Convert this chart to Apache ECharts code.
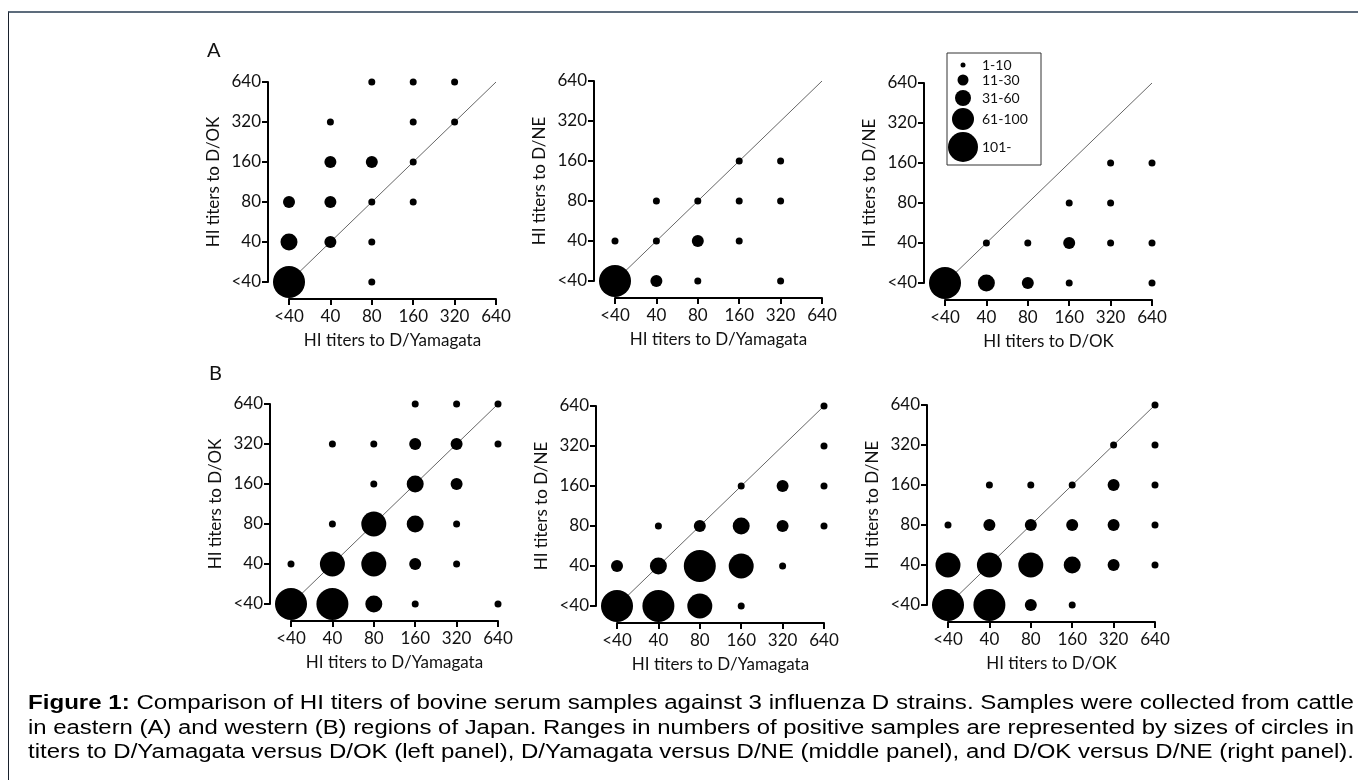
<!DOCTYPE html>
<html>
<head>
<meta charset="utf-8">
<script src="https://cdn.jsdelivr.net/npm/echarts@6/dist/echarts.min.js"></script>
<style>
body { margin: 0; background: #fff; overflow: hidden; }
#chart { position: absolute; left: 0; top: 0; width: 1358px; height: 780px; }
.frame { position: absolute; left: 8px; top: 11px; width: 1400px; height: 800px;
    border-top: 2px solid #5d6c7c; border-left: 1px solid #18202c; }
.caption { position: absolute; left: 28px; top: 690px; width: 1400px;
    font-family: 'Liberation Sans', Arial, sans-serif; font-size: 20px; line-height: 24.5px; color: #000; }
.caption span { display: inline-block; white-space: nowrap; transform-origin: left center; }
</style>
</head>
<body>
<div id="chart"></div>
<div class="frame"></div>
<div class="caption">
    <div><span><b>Figure 1:</b> Comparison of HI titers of bovine serum samples against 3 influenza D strains. Samples were collected from cattle</span></div>
    <div><span>in eastern (A) and western (B) regions of Japan. Ranges in numbers of positive samples are represented by sizes of circles in</span></div>
    <div><span>titers to D/Yamagata versus D/OK (left panel), D/Yamagata versus D/NE (middle panel), and D/OK versus D/NE (right panel).</span></div>
</div>
<script>
// titer categories on both axes (index 0..5)
var TITERS = ['<40', '40', '80', '160', '320', '640'];
// size classes 1..5
var RANGES = ['1-10', '11-30', '31-60', '61-100', '101-'];

// [x index, y index, size class]
// A: eastern Japan
var A_YAM_OK = [
    [0,0,5],[0,1,3],[0,2,2],
    [1,1,2],[1,2,2],[1,3,2],[1,4,1],
    [2,0,1],[2,1,1],[2,2,1],[2,3,2],[2,5,1],
    [3,2,1],[3,3,1],[3,4,1],[3,5,1],
    [4,4,1],[4,5,1]
];
var A_YAM_NE = [
    [0,0,5],[0,1,1],
    [1,0,2],[1,1,1],[1,2,1],
    [2,0,1],[2,1,2],[2,2,1],
    [3,1,1],[3,2,1],[3,3,1],
    [4,0,1],[4,2,1],[4,3,1]
];
var A_OK_NE = [
    [0,0,5],
    [1,0,3],[1,1,1],
    [2,0,2],[2,1,1],
    [3,0,1],[3,1,2],[3,2,1],
    [4,1,1],[4,2,1],[4,3,1],
    [5,0,1],[5,1,1],[5,3,1]
];
// B: western Japan
var B_YAM_OK = [
    [0,0,5],[0,1,1],
    [1,0,5],[1,1,4],[1,2,1],[1,4,1],
    [2,0,3],[2,1,4],[2,2,4],[2,3,1],[2,4,1],
    [3,0,1],[3,1,2],[3,2,3],[3,3,3],[3,4,2],[3,5,1],
    [4,1,1],[4,2,1],[4,3,2],[4,4,2],[4,5,1],
    [5,0,1],[5,4,1],[5,5,1]
];
var B_YAM_NE = [
    [0,0,5],[0,1,2],
    [1,0,5],[1,1,3],[1,2,1],
    [2,0,4],[2,1,5],[2,2,2],
    [3,0,1],[3,1,4],[3,2,3],[3,3,1],
    [4,1,1],[4,2,2],[4,3,2],
    [5,2,1],[5,3,1],[5,4,1],[5,5,1]
];
var B_OK_NE = [
    [0,0,5],[0,1,4],[0,2,1],
    [1,0,5],[1,1,4],[1,2,2],[1,3,1],
    [2,0,2],[2,1,4],[2,2,2],[2,3,1],
    [3,0,1],[3,1,3],[3,2,2],[3,3,1],
    [4,1,2],[4,2,2],[4,3,2],[4,4,1],
    [5,1,1],[5,2,1],[5,3,1],[5,4,1],[5,5,1]
];

var panels = [
    {data: A_YAM_OK, xName: 'HI titers to D/Yamagata', yName: 'HI titers to D/OK', left: 289, top: 82},
    {data: A_YAM_NE, xName: 'HI titers to D/Yamagata', yName: 'HI titers to D/NE', left: 615, top: 81},
    {data: A_OK_NE,  xName: 'HI titers to D/OK',       yName: 'HI titers to D/NE', left: 945, top: 83},
    {data: B_YAM_OK, xName: 'HI titers to D/Yamagata', yName: 'HI titers to D/OK', left: 291, top: 404},
    {data: B_YAM_NE, xName: 'HI titers to D/Yamagata', yName: 'HI titers to D/NE', left: 617, top: 406},
    {data: B_OK_NE,  xName: 'HI titers to D/OK',       yName: 'HI titers to D/NE', left: 948, top: 405}
];

var sizes = [7, 12, 17, 25, 32];
var legendSizes = [5, 11, 16, 22, 30];
var font = 'Lato, "Open Sans", sans-serif';

function axisBase(name) {
    return {
        type: 'value', min: 0, max: 5, interval: 1,
        name: name, nameLocation: 'middle',
        nameTextStyle: {fontFamily: font, fontSize: 17, color: '#111'},
        axisLine: {show: true, onZero: false, lineStyle: {color: '#000', width: 2}},
        axisTick: {show: true, length: 6, lineStyle: {color: '#000', width: 2}},
        axisLabel: {
            fontFamily: font, fontSize: 17, color: '#111',
            formatter: function (v) { return TITERS[v]; }
        },
        splitLine: {show: false}
    };
}

var grid = [], xAxis = [], yAxis = [], series = [];
panels.forEach(function (p, i) {
    grid.push({left: p.left, top: p.top, width: 207, height: 200});
    var xa = axisBase(p.xName);
    xa.gridIndex = i; xa.offset = 17; xa.nameGap = 33; xa.axisLabel.margin = 9;
    xAxis.push(xa);
    var ya = axisBase(p.yName);
    ya.gridIndex = i; ya.offset = 21; ya.nameGap = 46; ya.axisLabel.margin = 7;
    yAxis.push(ya);
    series.push({
        type: 'line', xAxisIndex: i, yAxisIndex: i,
        data: [[0, 0], [5, 5]], symbol: 'none', silent: true, z: 1,
        lineStyle: {color: '#666', width: 1}
    });
    series.push({
        type: 'scatter', xAxisIndex: i, yAxisIndex: i, z: 3,
        data: p.data,
        symbolSize: function (v) { return sizes[v[2] - 1]; },
        itemStyle: {color: '#000', opacity: 1}
    });
});

// size legend box in the top right panel
var legendItems = [{
    type: 'rect', shape: {x: 947, y: 53, width: 94, height: 112},
    style: {fill: '#fff', stroke: '#333', lineWidth: 1}, z: 10
}];
var legendY = [65, 80, 98, 119, 147];
RANGES.forEach(function (r, k) {
    legendItems.push({
        type: 'circle', shape: {cx: 963, cy: legendY[k], r: legendSizes[k] / 2},
        style: {fill: '#000'}, z: 11
    });
    legendItems.push({
        type: 'text', x: 982, y: legendY[k], z: 11,
        style: {text: r, fontFamily: font, fontSize: 14, fill: '#111', verticalAlign: 'middle'}
    });
});

var graphic = legendItems.concat([
    {type: 'text', x: 207, y: 41, style: {text: 'A', fontFamily: font, fontSize: 20, fill: '#111'}},
    {type: 'text', x: 209, y: 364, style: {text: 'B', fontFamily: font, fontSize: 20, fill: '#111'}}
]);

var chart = echarts.init(document.getElementById('chart'));
chart.setOption({
    animation: false,
    grid: grid,
    xAxis: xAxis,
    yAxis: yAxis,
    series: series,
    graphic: graphic
});

// stretch each caption line to the full text width, like the source figure
document.querySelectorAll('.caption span').forEach(function (el) {
    var w = el.getBoundingClientRect().width;
    el.style.transform = 'scaleX(' + (1326 / w) + ')';
});
</script>
</body>
</html>
